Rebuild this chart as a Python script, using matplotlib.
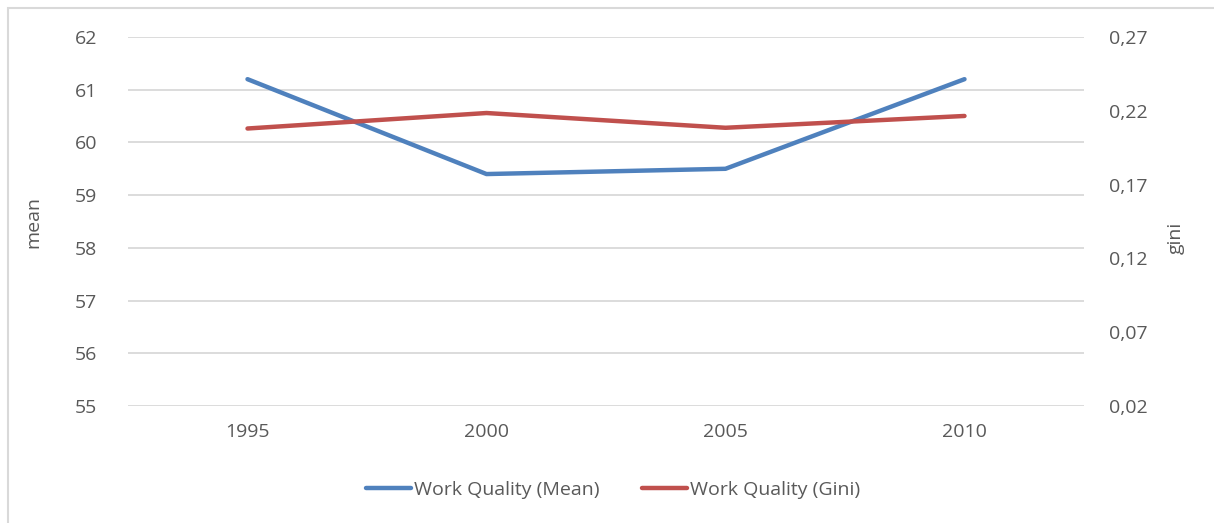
import matplotlib
matplotlib.use("Agg")
import matplotlib.pyplot as plt
from matplotlib.patches import Rectangle
from matplotlib.ticker import FixedLocator, FuncFormatter

years = ["1995", "2000", "2005", "2010"]
mean_values = [61.2, 59.4, 59.5, 61.2]
gini_values = [0.208, 0.2185, 0.2085, 0.2165]
left_ticks = [55, 56, 57, 58, 59, 60, 61, 62]
right_ticks = [0.02, 0.07, 0.12, 0.17, 0.22, 0.27]

plt.rcParams['font.family'] = ['Open Sans', 'DejaVu Sans']
txt = '#595959'
grid = '#d9d9d9'
blue = '#4f81bd'
red = '#c0504d'

fig = plt.figure(figsize=(12.14, 5.23), dpi=100)
fig.patches.append(Rectangle((8/1214, -0.01), 1.02, 1 - 8/523 + 0.01, transform=fig.transFigure,
                             fill=False, edgecolor='#d9d9d9', linewidth=1.5))
ax = fig.add_axes([128/1214, 1 - 406/523, (1084-128)/1214, (406-37)/523])
ax2 = ax.twinx()

x = list(range(len(years)))
ax.plot(x, mean_values, color=blue, lw=3.2, solid_capstyle='round', label='Work Quality (Mean)', zorder=3)
ax2.plot(x, gini_values, color=red, lw=3.2, solid_capstyle='round', label='Work Quality (Gini)', zorder=3)

ax.set_xlim(-0.5, len(years) - 0.5)
ax.set_ylim(55, 62)
ax2.set_ylim(0.02, 0.27)
ax.yaxis.set_major_locator(FixedLocator(left_ticks))
ax2.yaxis.set_major_locator(FixedLocator(right_ticks))
ax2.yaxis.set_major_formatter(FuncFormatter(lambda v, p: f"{v:.2f}".replace('.', ',')))
ax.set_xticks(x)
ax.set_xticklabels(years)

for a in (ax, ax2):
    for s in a.spines.values():
        s.set_visible(False)
    a.tick_params(length=0, labelsize=14, colors=txt)
ax.tick_params(axis='y', pad=22)
ax2.tick_params(axis='y', pad=18)
ax.tick_params(axis='x', pad=12)
ax.grid(axis='y', color=grid, lw=1.3)
ax.set_axisbelow(True)

fig.text(33/1214, 1 - 222/523, 'mean', rotation=90, fontsize=14, color=txt, ha='center', va='center')
fig.text(1176/1214, 1 - 238/523, 'gini', rotation=90, fontsize=14, color=txt, ha='center', va='center')

h1, l1 = ax.get_legend_handles_labels()
h2, l2 = ax2.get_legend_handles_labels()
fig.legend(h1 + h2, l1 + l2, loc='center', bbox_to_anchor=(0.505, 1 - 490/523), ncol=2,
           frameon=False, fontsize=14, labelcolor=txt, handlelength=2.3, handletextpad=0.15,
           columnspacing=2.2)

fig.savefig('out.png', dpi=100)
